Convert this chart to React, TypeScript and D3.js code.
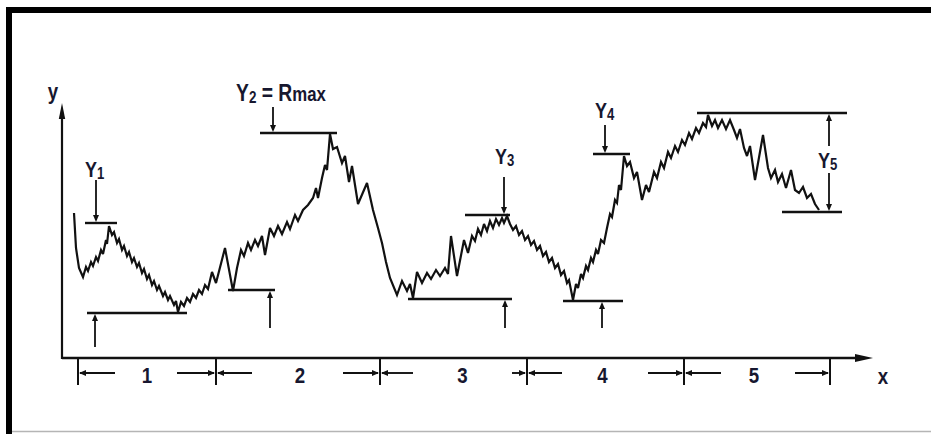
import React from "react";
import * as d3 from "d3";

// Surface profile trace (horizontal position, profile height), arbitrary units
const profileX = [
  12, 14, 17, 21, 24, 26, 29, 31, 34, 36, 39, 41, 44, 45, 47,
  50, 52, 55, 57, 60, 62, 65, 67, 70, 72, 75, 77, 80, 82, 85, 87, 90, 92, 95, 97, 101, 103, 106, 108, 112, 114, 116,
  119, 122, 125, 128, 131, 134, 137, 140, 143, 146, 150, 154, 163, 171,
  175, 179, 182, 186, 189, 193, 196, 200, 203, 208, 212, 216, 220, 225, 228, 233, 236, 241, 246, 251, 254, 256, 260, 263, 265, 268,
  271, 275, 280, 283, 287, 290, 296, 305, 311, 316, 320, 324, 328, 335, 340, 345, 348, 351,
  355, 360, 365, 369, 374, 378, 383, 386, 389, 395, 402, 406, 410, 413, 416, 419, 422, 425, 428, 431, 434, 437, 440, 442, 445,
  448, 451, 454, 457, 460, 463, 466, 469, 472, 475, 478, 481, 484, 487, 490, 493, 496, 499, 502, 505, 507, 511,
  514, 516, 519, 521, 524, 526, 529, 531, 534, 536, 539, 542, 545, 548, 550, 553, 555, 557, 559, 562,
  565, 568, 572, 575, 580, 584, 587, 592, 595, 599, 602, 606, 609, 613, 616, 620, 623, 627, 630, 634, 637, 641, 644, 646,
  650, 653, 656, 660, 664, 668, 672, 675, 678, 682, 685, 688, 693, 701, 706, 709, 713, 716, 720, 724, 729, 733, 737, 741, 745, 749, 753, 757,
];
const profileY = [
  145, 110, 90, 81, 91, 87, 96, 92, 101, 97, 108, 104, 118, 114, 132,
  123, 126, 115, 119, 108, 112, 102, 106, 96, 100, 91, 95, 85, 89, 79, 83, 73, 77, 68, 72, 62, 66, 58, 62, 53, 57, 46,
  56, 52, 60, 56, 64, 60, 68, 64, 73, 69, 86, 75, 110, 67,
  90, 108, 102, 115, 108, 118, 112, 122, 103, 130, 122, 132, 124, 136, 129, 143, 137, 148, 153, 160, 170, 160, 180, 193, 188, 224,
  209, 211, 195, 202, 176, 192, 154, 175, 148, 130, 115, 96, 80, 63, 77, 67, 74, 60,
  86, 75, 85, 79, 88, 82, 90, 84, 122, 82, 118, 105, 122, 117, 129, 123, 134, 127, 137, 130, 139, 133, 140, 135, 142,
  134, 128, 132, 123, 127, 118, 122, 113, 117, 108, 112, 102, 106, 96, 100, 90, 94, 83, 87, 75, 78, 58,
  74, 70, 84, 80, 92, 88, 100, 96, 108, 104, 118, 115, 130, 144, 141, 158, 155, 173, 168, 202,
  192, 196, 180, 186, 158, 173, 166, 186, 180, 196, 190, 206, 200, 212, 206, 218, 213, 225, 219, 230, 225, 235, 231, 243,
  232, 238, 230, 238, 229, 238, 228, 220, 229, 210, 202, 212, 178, 223, 190, 180, 188, 176, 184, 170, 188, 168, 165, 171, 160, 164, 154, 148,
];

// Sampling-length boundaries along the x axis and their labels
const segmentBounds = [16, 154, 318, 465, 622, 768];
const segmentNames = ["1", "2", "3", "4", "5"];

// Highest peak and lowest valley level within each sampling length
const peakLevel = [135, 225, 143, 204, 245];
const valleyLevel = [45, 68, 59, 57, 146];

const W = 931;
const H = 434;
const ink = "#111";
const textInk = "#17172f";
const font = "'Liberation Sans', Arial, Helvetica, sans-serif";

const x = d3.scaleLinear().domain([0, 811]).range([62, 873]);
const y = d3.scaleLinear().domain([0, 255]).range([358, 103]);

// Reference-line geometry for each sampling length (x extents, arrow x, arrow tail level)
const peakMarks = [
  { from: 23, to: 55, at: 34, tail: 178 },
  { from: 198, to: 275, at: 211, tail: 251 },
  { from: 403, to: 448, at: 442, tail: 181 },
  { from: 531, to: 568, at: 543, tail: 233 },
];
const valleyMarks = [
  { from: 25, to: 125, at: 33, tail: 11 },
  { from: 166, to: 213, at: 208, tail: 30 },
  { from: 346, to: 450, at: 443, tail: 30 },
  { from: 501, to: 561, at: 540, tail: 30 },
];
const lastTop = { from: 635, to: 785 };
const lastBottom = { from: 720, to: 780 };
const lastArrowX = 767;

// pixel arrow lengths beside each sampling-length label, and label offsets
const dimArrows: [number, number][] = [[37, 39], [36, 37], [33, 15], [35, 36], [37, 35]];
const labelShift = [0, 2, 9, -3, -3];

function arrowHead(tx: number, ty: number, dir: "up" | "down" | "left" | "right", len = 7, half = 2.6) {
  switch (dir) {
    case "up":
      return `M${tx},${ty} L${tx - half},${ty + len} L${tx + half},${ty + len} Z`;
    case "down":
      return `M${tx},${ty} L${tx - half},${ty - len} L${tx + half},${ty - len} Z`;
    case "left":
      return `M${tx},${ty} L${tx + len},${ty - half} L${tx + len},${ty + half} Z`;
    default:
      return `M${tx},${ty} L${tx - len},${ty - half} L${tx - len},${ty + half} Z`;
  }
}

function SubLabel({ px, py, main, sub }: { px: number; py: number; main: string; sub: string }) {
  return (
    <g transform={`translate(${px},${py}) scale(0.82,1)`}>
      <text x={0} y={0} fontFamily={font} fontSize={22} fontWeight={700} fill={textInk}>
        <tspan>{main}</tspan>
        <tspan fontSize={16} dy={2}>{sub}</tspan>
      </text>
    </g>
  );
}

export default function App() {
  const pts = d3.zip(profileX, profileY) as [number, number][];
  const line = d3
    .line<[number, number]>()
    .x((d) => x(d[0]))
    .y((d) => y(d[1]));

  const axisY = y(0);
  const axisX0 = x(0);
  const dimY = 373;

  return (
    <svg
      width={W}
      height={H}
      viewBox={`0 0 ${W} ${H}`}
      style={{ position: "absolute", left: 0, top: 0, background: "#fff" }}
    >
      {/* frame */}
      <line x1={9} y1={431.5} x2={W} y2={431.5} stroke="#b5b5b5" strokeWidth={1.5} />
      <path d={`M9,${H} V10 H${W}`} fill="none" stroke="#000" strokeWidth={6} />

      {/* axes */}
      <line x1={axisX0} y1={axisY} x2={x(811) - 12} y2={axisY} stroke={ink} strokeWidth={2.4} />
      <path d={arrowHead(x(811), axisY, "right", 18, 4)} fill={ink} />
      <line x1={axisX0} y1={axisY + 1} x2={axisX0} y2={y(255) + 12} stroke={ink} strokeWidth={2.2} />
      <path d={arrowHead(axisX0, y(255), "up", 16, 3.2)} fill={ink} />
      <g transform="translate(53,99) scale(0.85,1)">
        <text x={0} y={0} textAnchor="middle" fontFamily={font} fontSize={22} fontWeight={700} fill={textInk}>y</text>
      </g>
      <g transform="translate(883,384) scale(0.85,1)">
        <text x={0} y={0} textAnchor="middle" fontFamily={font} fontSize={22} fontWeight={700} fill={textInk}>x</text>
      </g>

      {/* sampling-length ticks and dimension arrows */}
      {segmentBounds.map((b, i) => (
        <line key={`t${i}`} x1={x(b)} y1={axisY} x2={x(b)} y2={385} stroke={ink} strokeWidth={2} />
      ))}
      {segmentNames.map((name, i) => {
        const l = x(segmentBounds[i]);
        const r = x(segmentBounds[i + 1]);
        const [la, ra] = dimArrows[i];
        return (
          <g key={`s${i}`}>
            <line x1={l + 2} y1={dimY} x2={l + la} y2={dimY} stroke={ink} strokeWidth={1.9} />
            <path d={arrowHead(l + 1, dimY, "left", 7, 3)} fill={ink} />
            <line x1={r - ra} y1={dimY} x2={r - 2} y2={dimY} stroke={ink} strokeWidth={1.9} />
            <path d={arrowHead(r - 1, dimY, "right", 7, 3)} fill={ink} />
            <g transform={`translate(${(l + r) / 2 + labelShift[i]},383) scale(0.85,1)`}>
              <text x={0} y={0} textAnchor="middle" fontFamily={font} fontSize={22} fontWeight={700} fill={textInk}>
                {name}
              </text>
            </g>
          </g>
        );
      })}

      {/* peak reference lines with downward arrows */}
      {peakMarks.map((m, i) => (
        <g key={`p${i}`}>
          <line x1={x(m.from)} y1={y(peakLevel[i])} x2={x(m.to)} y2={y(peakLevel[i])} stroke={ink} strokeWidth={2.4} />
          <line x1={x(m.at)} y1={y(m.tail)} x2={x(m.at)} y2={y(peakLevel[i]) - 4} stroke={ink} strokeWidth={1.8} />
          <path d={arrowHead(x(m.at), y(peakLevel[i]) - 1, "down", 7, 3)} fill={ink} />
        </g>
      ))}

      {/* valley reference lines with upward arrows */}
      {valleyMarks.map((m, i) => (
        <g key={`v${i}`}>
          <line x1={x(m.from)} y1={y(valleyLevel[i])} x2={x(m.to)} y2={y(valleyLevel[i])} stroke={ink} strokeWidth={2.4} />
          <line x1={x(m.at)} y1={y(m.tail)} x2={x(m.at)} y2={y(valleyLevel[i]) + 4} stroke={ink} strokeWidth={1.8} />
          <path d={arrowHead(x(m.at), y(valleyLevel[i]) + 1, "up", 7, 3)} fill={ink} />
        </g>
      ))}

      {/* fifth sampling length: peak-to-valley height */}
      <line x1={x(lastTop.from)} y1={y(peakLevel[4])} x2={x(lastTop.to)} y2={y(peakLevel[4])} stroke={ink} strokeWidth={2.4} />
      <line x1={x(lastBottom.from)} y1={y(valleyLevel[4])} x2={x(lastBottom.to)} y2={y(valleyLevel[4])} stroke={ink} strokeWidth={2.4} />
      <line x1={x(lastArrowX)} y1={y(peakLevel[4]) + 4} x2={x(lastArrowX)} y2={146} stroke={ink} strokeWidth={1.8} />
      <line x1={x(lastArrowX)} y1={173} x2={x(lastArrowX)} y2={y(valleyLevel[4]) - 4} stroke={ink} strokeWidth={1.8} />
      <path d={arrowHead(x(lastArrowX), y(peakLevel[4]) + 1, "up", 7, 3)} fill={ink} />
      <path d={arrowHead(x(lastArrowX), y(valleyLevel[4]) - 1, "down", 7, 3)} fill={ink} />

      {/* roughness profile */}
      <path d={line(pts) ?? ""} fill="none" stroke={ink} strokeWidth={2.2} strokeLinejoin="miter" strokeMiterlimit={3} />

      {/* labels */}
      <SubLabel px={85} py={177} main="Y" sub="1" />
      <g transform="translate(236,101) scale(0.84,1)">
        <text x={0} y={0} fontFamily={font} fontSize={23} fontWeight={700} fill={textInk}>
          <tspan>Y</tspan>
          <tspan fontSize={16} dy={2}>2</tspan>
          <tspan dy={-2}> = R</tspan>
          <tspan fontSize={20}>max</tspan>
        </text>
      </g>
      <SubLabel px={495} py={164} main="Y" sub="3" />
      <SubLabel px={595} py={118} main="Y" sub="4" />
      <SubLabel px={818} py={168} main="Y" sub="5" />
    </svg>
  );
}
